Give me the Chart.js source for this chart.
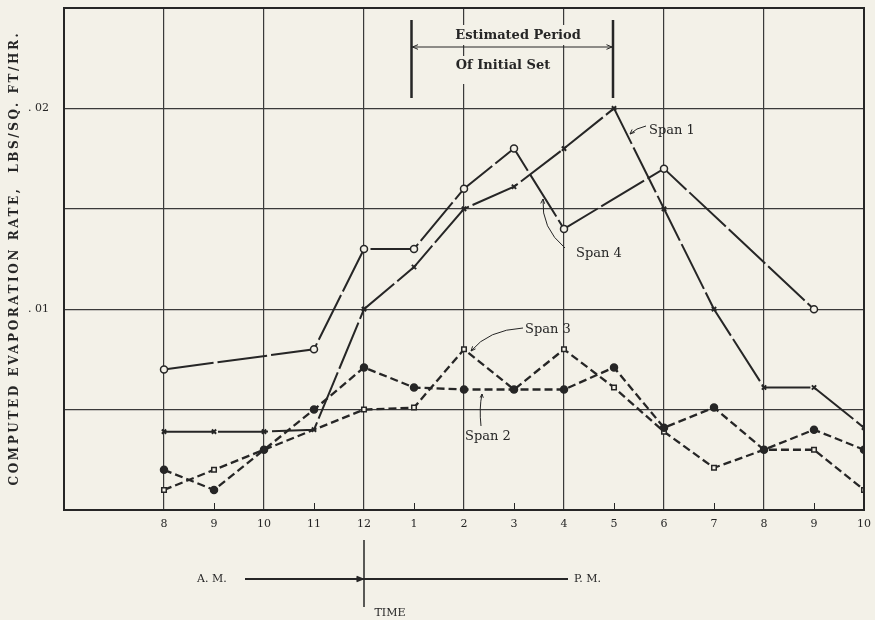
<!DOCTYPE html>
<html>
<head>
<meta charset="utf-8">
<script src="https://cdn.jsdelivr.net/npm/chart.js@4.4.1/dist/chart.umd.min.js"></script>
<style>
  html, body { margin: 0; padding: 0; background: #f3f1e8; }
  #wrap { width: 875px; height: 620px; }
</style>
</head>
<body>
<div id="wrap"><canvas id="evap"></canvas></div>
<script>
// hours on a 24h clock, 8 A.M. through 10 P.M.
const hours = [8, 9, 10, 11, 12, 13, 14, 15, 16, 17, 18, 19, 20, 21, 22];
const hourLabels = ['8', '9', '10', '11', '12', '1', '2', '3', '4', '5', '6', '7', '8', '9', '10'];

// evaporation rate, lbs/sq ft/hr (null = no reading plotted)
const span1 = [0.0039, 0.0039, 0.0039, 0.0040, 0.0100, 0.0121, 0.0150, 0.0161, 0.0180, 0.0200, 0.0150, 0.0100, 0.0061, 0.0061, 0.0041];
const span4 = [0.0070, null, null, 0.0080, 0.0130, 0.0130, 0.0160, 0.0180, 0.0140, null, 0.0170, null, null, 0.0100, null];
const span2 = [0.0020, 0.0010, 0.0030, 0.0050, 0.0071, 0.0061, 0.0060, 0.0060, 0.0060, 0.0071, 0.0041, 0.0051, 0.0030, 0.0040, 0.0030];
const span3 = [0.0010, 0.0020, 0.0030, null, 0.0050, 0.0051, 0.0080, 0.0060, 0.0080, 0.0061, 0.0039, 0.0021, 0.0030, 0.0030, 0.0010];

const yTickLabels = { '0.01': '. 01', '0.02': '. 02' };
const yTitle = 'COMPUTED EVAPORATION RATE,  LBS/SQ. FT/HR.';

const INK = '#262626';
const PAPER = '#f3f1e8';
const SERIF = '"DejaVu Serif", "Liberation Serif", serif';

function pts(arr) {
  return hours.map((h, i) => ({ x: h, y: arr[i] }));
}

function series(label, arr, style) {
  return Object.assign({
    label: label,
    data: pts(arr),
    borderColor: INK,
    borderWidth: 2,
    pointBorderColor: INK,
    pointBorderWidth: 1.5,
    spanGaps: true,
    tension: 0
  }, style);
}

const paper = {
  id: 'paper',
  beforeDraw(chart) {
    const ctx = chart.ctx;
    ctx.save();
    ctx.fillStyle = PAPER;
    ctx.fillRect(0, 0, chart.width, chart.height);
    ctx.restore();
  }
};

function arrowHead(ctx, x, y, ang, len) {
  ctx.beginPath();
  ctx.moveTo(x, y);
  ctx.lineTo(x - len * Math.cos(ang - 0.4), y - len * Math.sin(ang - 0.4));
  ctx.moveTo(x, y);
  ctx.lineTo(x - len * Math.cos(ang + 0.4), y - len * Math.sin(ang + 0.4));
  ctx.stroke();
}

const notes = {
  id: 'notes',
  beforeDatasetsDraw(chart) {
    const { ctx, chartArea: a, scales: { x, y } } = chart;
    ctx.save();
    // small ticks at odd hours
    ctx.strokeStyle = INK;
    ctx.lineWidth = 1;
    hours.forEach(h => {
      if (h % 2 === 1) {
        const px = Math.round(x.getPixelForValue(h)) + 0.5;
        ctx.beginPath();
        ctx.moveTo(px, a.bottom);
        ctx.lineTo(px, a.bottom - 7);
        ctx.stroke();
      }
    });

    // estimated period of initial set
    const x1 = x.getPixelForValue(12.95), x2 = x.getPixelForValue(16.98);
    ctx.fillStyle = PAPER;
    ctx.fillRect(446, 25, 146, 20);
    ctx.fillRect(446, 56, 116, 28);
    ctx.fillStyle = INK;
    ctx.font = 'bold 13px ' + SERIF;
    ctx.textAlign = 'center';
    ctx.textBaseline = 'middle';
    ctx.fillText('Estimated Period', 518, 36);
    ctx.fillText('Of Initial Set', 503, 66);
    ctx.lineWidth = 2.5;
    ctx.beginPath();
    ctx.moveTo(x1, 20); ctx.lineTo(x1, 98);
    ctx.moveTo(x2, 20); ctx.lineTo(x2, 98);
    ctx.stroke();
    ctx.lineWidth = 1;
    ctx.beginPath();
    ctx.moveTo(x1, 47); ctx.lineTo(x2, 47);
    ctx.stroke();
    arrowHead(ctx, x1 + 1, 47, Math.PI, 6);
    arrowHead(ctx, x2 - 1, 47, 0, 6);

    // rotated axis title, letter-spaced like the original lettering
    ctx.fillStyle = INK;
    ctx.font = 'bold 12px ' + SERIF;
    ctx.letterSpacing = '2.6px';
    ctx.translate(15, 258);
    ctx.rotate(-Math.PI / 2);
    ctx.textAlign = 'center';
    ctx.textBaseline = 'middle';
    ctx.fillText(yTitle, 0, 0);
    ctx.restore();
  },
  afterDatasetsDraw(chart) {
    const { ctx, chartArea: a } = chart;
    ctx.save();
    ctx.strokeStyle = INK;
    ctx.fillStyle = INK;

    // plot frame
    ctx.lineWidth = 2;
    ctx.strokeRect(a.left, a.top, a.right - a.left, a.bottom - a.top);

    // span labels with pointers
    ctx.font = '13px ' + SERIF;
    ctx.textAlign = 'left';
    ctx.textBaseline = 'middle';
    ctx.fillText('Span 1', 649, 131);
    ctx.fillText('Span 4', 576, 254);
    ctx.fillText('Span 3', 525, 330);
    ctx.fillText('Span 2', 465, 437);
    ctx.lineWidth = 1;
    ctx.beginPath();
    ctx.moveTo(646, 126);
    ctx.quadraticCurveTo(636, 128, 630, 134);
    ctx.stroke();
    arrowHead(ctx, 630, 134, 2.4, 5);
    ctx.beginPath();
    ctx.moveTo(565, 248);
    ctx.quadraticCurveTo(541, 228, 543, 199);
    ctx.stroke();
    arrowHead(ctx, 543, 199, -1.5, 5);
    ctx.beginPath();
    ctx.moveTo(523, 328);
    ctx.quadraticCurveTo(488, 330, 471, 351);
    ctx.stroke();
    arrowHead(ctx, 471, 351, 2.3, 5);
    ctx.beginPath();
    ctx.moveTo(481, 426);
    ctx.quadraticCurveTo(479, 408, 482, 394);
    ctx.stroke();
    arrowHead(ctx, 482, 394, -1.5, 4);

    // A.M. / P.M. time bar
    ctx.font = '11px ' + SERIF;
    ctx.textAlign = 'left';
    ctx.fillText('A. M.', 197, 579);
    ctx.fillText('P. M.', 574, 579);
    ctx.textAlign = 'center';
    ctx.fillText('TIME', 390, 613);
    ctx.lineWidth = 2;
    ctx.beginPath();
    ctx.moveTo(245, 579); ctx.lineTo(568, 579);
    ctx.stroke();
    arrowHead(ctx, 362, 579, 0, 6);
    ctx.lineWidth = 1.5;
    ctx.beginPath();
    ctx.moveTo(364, 540); ctx.lineTo(364, 607);
    ctx.stroke();
    ctx.restore();
  }
};

window.onload = function () {
  new Chart(document.getElementById('evap'), {
    type: 'line',
    data: {
      datasets: [
        series('Span 1', span1, { borderDash: [50, 4], pointStyle: 'crossRot', pointRadius: 3, pointBorderWidth: 2 }),
        series('Span 4', span4, { borderDash: [50, 4], pointStyle: 'circle', pointRadius: 3.5, pointBackgroundColor: PAPER }),
        series('Span 2', span2, { borderDash: [8, 4], borderWidth: 2.3, pointStyle: 'circle', pointRadius: 3.5, pointBackgroundColor: INK }),
        series('Span 3', span3, { borderDash: [8, 4], borderWidth: 2.3, pointStyle: 'rect', pointRadius: 3.2, pointBackgroundColor: PAPER })
      ]
    },
    options: {
      responsive: true,
      maintainAspectRatio: false,
      animation: false,
      layout: { padding: { top: 8, right: 11, left: 0, bottom: 0 } },
      plugins: {
        legend: { display: false },
        tooltip: { enabled: false }
      },
      scales: {
        x: {
          type: 'linear',
          min: 6,
          max: 22,
          afterFit(scale) {
            scale.height = 110;
            scale.paddingLeft = 0;
            scale.paddingRight = 0;
          },
          afterBuildTicks(scale) {
            scale.ticks = [6].concat(hours).map(v => ({ value: v }));
          },
          border: { display: false },
          grid: {
            drawTicks: false,
            lineWidth: 1.2,
            color: c => (c.tick && c.tick.value % 2 === 0 && c.tick.value > 6 && c.tick.value < 22) ? '#3a3a3a' : 'rgba(0,0,0,0)'
          },
          ticks: {
            autoSkip: false,
            maxRotation: 0,
            padding: 8,
            color: INK,
            font: { family: SERIF, size: 11 },
            callback: v => {
              const i = hours.indexOf(v);
              return i >= 0 ? hourLabels[i] : '';
            }
          }
        },
        y: {
          min: 0,
          max: 0.025,
          afterFit(scale) {
            scale.width = 64;
            scale.paddingTop = 0;
            scale.paddingBottom = 0;
          },
          border: { display: false },
          grid: {
            drawTicks: false,
            lineWidth: 1.2,
            color: c => (c.tick && c.tick.value > 0.001 && c.tick.value < 0.024) ? '#3a3a3a' : 'rgba(0,0,0,0)'
          },
          ticks: {
            stepSize: 0.005,
            padding: 15,
            color: INK,
            font: { family: SERIF, size: 11 },
            callback: v => yTickLabels[String(Math.round(v * 1000) / 1000)] || ''
          }
        }
      }
    },
    plugins: [paper, notes]
  });
};
</script>
</body>
</html>
